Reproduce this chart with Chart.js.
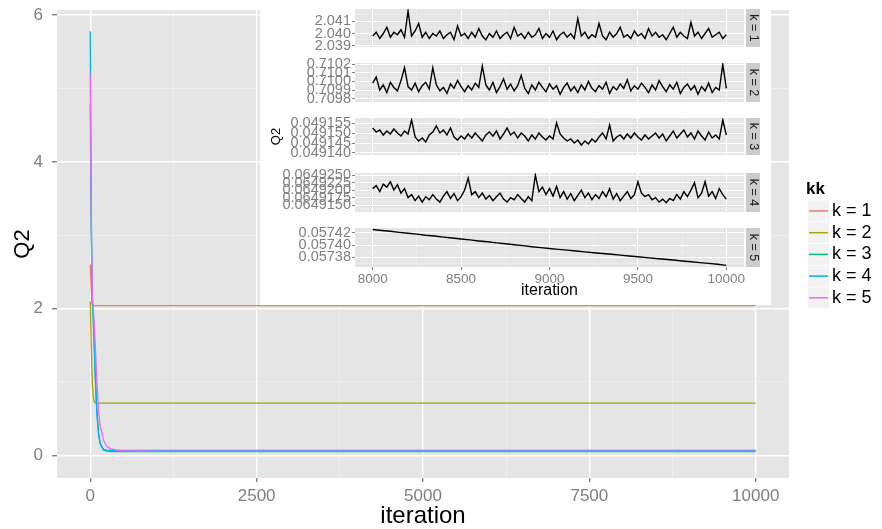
<!DOCTYPE html>
<html>
<head>
<meta charset="utf-8">
<script src="https://cdn.jsdelivr.net/npm/chart.js@4/dist/chart.umd.min.js"></script>
<style>
  html, body { margin: 0; padding: 0; background: #ffffff; }
  #wrap { position: relative; width: 882px; height: 529px; background: #ffffff; overflow: hidden; }
  #main { position: absolute; left: 0; top: 0; }
  #inset { position: absolute; left: 260px; top: 0; width: 511px; height: 305px; background: #ffffff; }
  #inset canvas { position: absolute; left: 0; }
</style>
</head>
<body>
<div id="wrap">
  <canvas id="main" width="882" height="529"></canvas>
  <div id="inset">
    <canvas id="p1" width="511" height="54" style="top:1px"></canvas>
    <canvas id="p2" width="511" height="55" style="top:55px"></canvas>
    <canvas id="p3" width="511" height="53" style="top:110px"></canvas>
    <canvas id="p4" width="511" height="55" style="top:165px"></canvas>
    <canvas id="p5" width="511" height="85" style="top:220px"></canvas>
  </div>
</div>
<script>
// ---------------- DATA ----------------
const seriesNames = ['k = 1', 'k = 2', 'k = 3', 'k = 4', 'k = 5'];
const legendTitle = 'kk';
const seriesColors = ['#F8766D', '#A3A500', '#00BF7D', '#00B0F6', '#E76BF3'];

// main plot (full run)
const mainIterations = [0, 15, 30, 45, 60, 80, 100, 125, 150, 200, 250, 300, 400, 500, 700, 1000, 2000, 4000, 6000, 8000, 10000];
const mainK1 = [2.6, 2.25, 2.08, 2.045, 2.041, 2.0402, 2.0400, 2.0399, 2.0399, 2.0399, 2.0399, 2.0399, 2.0399, 2.0399, 2.0399, 2.0399, 2.0399, 2.0399, 2.0399, 2.0399, 2.0399];
const mainK2 = [2.1, 1.5, 1.0, 0.80, 0.73, 0.712, 0.7100, 0.7099, 0.7099, 0.7099, 0.7099, 0.7099, 0.7099, 0.7099, 0.7099, 0.7099, 0.7099, 0.7099, 0.7099, 0.7099, 0.7099];
const mainK3 = [4.8, 3.0, 2.1, 1.9, 1.5, 1.0, 0.6, 0.3, 0.16, 0.07, 0.055, 0.051, 0.0495, 0.0492, 0.04915, 0.04915, 0.04915, 0.04915, 0.04915, 0.04915, 0.04915];
const mainK4 = [5.78, 3.3, 2.1, 1.85, 1.45, 0.95, 0.55, 0.28, 0.15, 0.08, 0.07, 0.066, 0.0652, 0.0650, 0.06492, 0.06492, 0.06492, 0.06492, 0.06492, 0.06492, 0.06492];
const mainK5 = [5.2, 3.2, 2.2, 2.0, 1.8, 1.4, 1.0, 0.6, 0.4, 0.2, 0.12, 0.09, 0.07, 0.062, 0.058, 0.0576, 0.05745, 0.05743, 0.05742, 0.057425, 0.057367];

const mainXMajor = [0, 2500, 5000, 7500, 10000];
const mainXMinor = [1250, 3750, 6250, 8750];
const mainYMajor = [0, 2, 4, 6];
const mainYMinor = [1, 3, 5];

// inset (iterations 8000-10000)
const insetIterations = [
  8000, 8020, 8040, 8060, 8080, 8100, 8120, 8140, 8160, 8180,
  8200, 8220, 8240, 8260, 8280, 8300, 8320, 8340, 8360, 8380,
  8400, 8420, 8440, 8460, 8480, 8500, 8520, 8540, 8560, 8580,
  8600, 8620, 8640, 8660, 8680, 8700, 8720, 8740, 8760, 8780,
  8800, 8820, 8840, 8860, 8880, 8900, 8920, 8940, 8960, 8980,
  9000, 9020, 9040, 9060, 9080, 9100, 9120, 9140, 9160, 9180,
  9200, 9220, 9240, 9260, 9280, 9300, 9320, 9340, 9360, 9380,
  9400, 9420, 9440, 9460, 9480, 9500, 9520, 9540, 9560, 9580,
  9600, 9620, 9640, 9660, 9680, 9700, 9720, 9740, 9760, 9780,
  9800, 9820, 9840, 9860, 9880, 9900, 9920, 9940, 9960, 9980,
  10000];
const insetK1 = [
  2.0398, 2.0401, 2.0396, 2.0400, 2.0405, 2.0397, 2.0401, 2.0399, 2.0403, 2.0397,
  2.0418, 2.0398, 2.0402, 2.0408, 2.0397, 2.0401, 2.0396, 2.0400, 2.0398, 2.0402,
  2.0396, 2.0399, 2.0401, 2.0395, 2.0406, 2.0398, 2.0400, 2.0396, 2.0401, 2.0397,
  2.0404, 2.0398, 2.0395, 2.0400, 2.0397, 2.0402, 2.0396, 2.0399, 2.0401, 2.0396,
  2.0405, 2.0398, 2.0400, 2.0396, 2.0401, 2.0397, 2.0399, 2.0404, 2.0396, 2.0400,
  2.0397, 2.0402, 2.0395, 2.0399, 2.0401, 2.0397, 2.0400, 2.0396, 2.0412, 2.0398,
  2.0401, 2.0396, 2.0399, 2.0397, 2.0408, 2.0398, 2.0395, 2.0401, 2.0397, 2.0400,
  2.0405, 2.0397, 2.0399, 2.0396, 2.0402, 2.0398, 2.0400, 2.0396, 2.0404, 2.0398,
  2.0401, 2.0397, 2.0399, 2.0395, 2.0400, 2.0405, 2.0397, 2.0401, 2.0398, 2.0396,
  2.0409, 2.0398, 2.0401, 2.0396, 2.0400, 2.0404, 2.0397, 2.0399, 2.0401, 2.0396,
  2.0399];
const insetK2 = [
  0.70998, 0.71005, 0.70990, 0.70996, 0.70987, 0.70999, 0.70993, 0.70989, 0.71001, 0.71016,
  0.70994, 0.70990, 0.70998, 0.70988, 0.70995, 0.70999, 0.70991, 0.71016, 0.70996, 0.70989,
  0.70993, 0.70986, 0.70997, 0.70992, 0.71001, 0.70994, 0.70988, 0.70995, 0.70990, 0.70998,
  0.70993, 0.71018, 0.70996, 0.70990, 0.70999, 0.70987, 0.70994, 0.71003, 0.70991, 0.70997,
  0.70989, 0.70995, 0.71007, 0.70992, 0.70986, 0.70996, 0.70990, 0.70999, 0.70993, 0.70988,
  0.70997, 0.70991, 0.70995, 0.70985, 0.70993, 0.70998, 0.70989, 0.70994, 0.70987, 0.70996,
  0.70990, 0.71000, 0.70992, 0.70988, 0.70995, 0.70991, 0.70999, 0.70986, 0.70994, 0.70990,
  0.70997, 0.70992, 0.71002, 0.70989, 0.70995, 0.70991, 0.70998, 0.70993, 0.70987, 0.70996,
  0.70990, 0.71001, 0.70994, 0.70988, 0.70996, 0.70991, 0.70999, 0.70986, 0.70993, 0.70997,
  0.70990, 0.70995, 0.70985, 0.70994, 0.70989, 0.70998, 0.70987, 0.70993, 0.70990, 0.71020,
  0.70992];
const insetK3 = [
  0.0491525, 0.0491505, 0.0491515, 0.0491490, 0.0491510, 0.0491495, 0.0491520, 0.0491500, 0.0491485, 0.0491510,
  0.0491495, 0.0491565, 0.0491480, 0.0491460, 0.0491475, 0.0491455, 0.0491490, 0.0491505, 0.0491535, 0.0491500,
  0.0491515, 0.0491490, 0.0491525, 0.0491480, 0.0491465, 0.0491485, 0.0491470, 0.0491495, 0.0491475, 0.0491500,
  0.0491480, 0.0491460, 0.0491490, 0.0491505, 0.0491485, 0.0491510, 0.0491470, 0.0491495, 0.0491525, 0.0491490,
  0.0491505, 0.0491475, 0.0491500, 0.0491485, 0.0491460, 0.0491490, 0.0491470, 0.0491500, 0.0491480, 0.0491465,
  0.0491485, 0.0491470, 0.0491550, 0.0491495, 0.0491475, 0.0491460, 0.0491470, 0.0491450, 0.0491465, 0.0491440,
  0.0491460, 0.0491445, 0.0491470, 0.0491455, 0.0491480, 0.0491500, 0.0491470, 0.0491540, 0.0491460, 0.0491480,
  0.0491490, 0.0491470, 0.0491495, 0.0491475, 0.0491500, 0.0491480, 0.0491465, 0.0491490, 0.0491470, 0.0491485,
  0.0491500, 0.0491475, 0.0491495, 0.0491460, 0.0491485, 0.0491510, 0.0491475, 0.0491495, 0.0491515, 0.0491480,
  0.0491500, 0.0491470, 0.0491510, 0.0491485, 0.0491465, 0.0491505, 0.0491475, 0.0491490, 0.0491470, 0.0491565,
  0.0491490];
const insetK4 = [
  0.0649205, 0.0649215, 0.0649195, 0.0649220, 0.0649210, 0.0649228, 0.0649200, 0.0649218, 0.0649190, 0.0649205,
  0.0649175, 0.0649185, 0.0649165, 0.0649180, 0.0649160, 0.0649178, 0.0649168, 0.0649185, 0.0649170, 0.0649160,
  0.0649180, 0.0649195, 0.0649172, 0.0649188, 0.0649165, 0.0649178, 0.0649200, 0.0649240, 0.0649185, 0.0649195,
  0.0649175, 0.0649190, 0.0649170, 0.0649182, 0.0649165, 0.0649178, 0.0649190, 0.0649170, 0.0649160, 0.0649175,
  0.0649168, 0.0649185, 0.0649172, 0.0649160, 0.0649178, 0.0649165, 0.0649250, 0.0649195, 0.0649210, 0.0649185,
  0.0649205, 0.0649180, 0.0649212, 0.0649175, 0.0649195, 0.0649170, 0.0649188, 0.0649165, 0.0649182, 0.0649200,
  0.0649175, 0.0649190, 0.0649168, 0.0649185, 0.0649172, 0.0649195, 0.0649178, 0.0649205, 0.0649170, 0.0649188,
  0.0649165, 0.0649180, 0.0649195, 0.0649172, 0.0649185, 0.0649228, 0.0649190, 0.0649178, 0.0649185, 0.0649168,
  0.0649175, 0.0649160, 0.0649170, 0.0649158, 0.0649172, 0.0649165, 0.0649185, 0.0649170, 0.0649195, 0.0649178,
  0.0649200, 0.0649225, 0.0649175, 0.0649190, 0.0649228, 0.0649180, 0.0649195, 0.0649172, 0.0649205, 0.0649185,
  0.0649170];
const insetK5Iterations = [
  8000, 8050, 8100, 8150, 8200, 8250, 8300, 8350, 8400, 8450,
  8500, 8550, 8600, 8650, 8700, 8750, 8800, 8850, 8900, 8950,
  9000, 9050, 9100, 9150, 9200, 9250, 9300, 9350, 9400, 9450,
  9500, 9550, 9600, 9650, 9700, 9750, 9800, 9850, 9900, 9950,
  10000];
const insetK5 = [
  0.0574250, 0.0574235, 0.0574222, 0.0574205, 0.0574190, 0.0574176, 0.0574158, 0.0574145, 0.0574128, 0.0574113,
  0.0574098, 0.0574083, 0.0574066, 0.0574052, 0.0574035, 0.0574021, 0.0574004, 0.0573990, 0.0573973, 0.0573958,
  0.0573944, 0.0573930, 0.0573918, 0.0573903, 0.0573890, 0.0573876, 0.0573863, 0.0573850, 0.0573836, 0.0573823,
  0.0573810, 0.0573796, 0.0573783, 0.0573770, 0.0573757, 0.0573742, 0.0573730, 0.0573716, 0.0573704, 0.0573690,
  0.0573672];

const insetXMajor = [8000, 8500, 9000, 9500, 10000];
const insetXMinor = [8250, 8750, 9250, 9750];
const insetYMajor1 = [2.039, 2.040, 2.041];
const insetYMinor1 = [2.0395, 2.0405, 2.0415];
const insetYMajor2 = [0.7098, 0.7099, 0.7100, 0.7101, 0.7102];
const insetYMinor2 = [0.70985, 0.70995, 0.71005, 0.71015];
const insetYMajor3 = [0.049140, 0.049145, 0.049150, 0.049155];
const insetYMinor3 = [0.0491425, 0.0491475, 0.0491525];
const insetYMajor4 = [0.0649150, 0.0649175, 0.0649200, 0.0649225, 0.0649250];
const insetYMinor4 = [0.06491375, 0.06491625, 0.06491875, 0.06492125, 0.06492375];
const insetYMajor5 = [0.05738, 0.05740, 0.05742];
const insetYMinor5 = [0.05737, 0.05739, 0.05741];

// ---------------- STYLE / HELPERS ----------------
const FONT = "'Liberation Sans', Arial, Helvetica, sans-serif";
const TICK_GREY = '#7F7F7F';
const PANEL_BG = '#E5E5E5';
const MINOR_GRID = '#F2F2F2';

function pts(xs, ys) { return xs.map((x, i) => ({ x: x, y: ys[i] })); }
function tickList(major, minor) {
  return major.map(v => ({ value: v, mj: true })).concat(minor.map(v => ({ value: v, mj: false })))
    .sort((a, b) => a.value - b.value);
}
const gridColor = c => (c.tick && c.tick.mj) ? '#FFFFFF' : MINOR_GRID;
const tickColor = c => (c.tick && c.tick.mj) ? TICK_GREY : 'rgba(0,0,0,0)';
function noEdgePadding(ax) { ax.paddingTop = 0; ax.paddingBottom = 0; }

const panelBg = {
  id: 'panelBg',
  beforeDraw(chart) {
    const { ctx, chartArea: a } = chart;
    ctx.save();
    ctx.fillStyle = PANEL_BG;
    ctx.fillRect(a.left, a.top, a.right - a.left, a.bottom - a.top);
    ctx.restore();
  }
};

const stripPlugin = {
  id: 'strip',
  afterDraw(chart, args, opts) {
    if (!opts || !opts.text) return;
    const { ctx, chartArea: a } = chart;
    ctx.save();
    ctx.fillStyle = '#CCCCCC';
    ctx.fillRect(a.right + 2, a.top, 14, a.bottom - a.top);
    ctx.translate(a.right + 9, (a.top + a.bottom) / 2);
    ctx.rotate(Math.PI / 2);
    ctx.fillStyle = '#1A1A1A';
    ctx.font = '12.5px ' + FONT;
    ctx.textAlign = 'center';
    ctx.textBaseline = 'middle';
    ctx.fillText(opts.text, 0, 0);
    ctx.restore();
  }
};

const legendPlugin = {
  id: 'kkLegend',
  afterDraw(chart) {
    const ctx = chart.ctx;
    ctx.save();
    ctx.textAlign = 'left';
    ctx.textBaseline = 'middle';
    ctx.fillStyle = '#000000';
    ctx.font = 'bold 17px ' + FONT;
    ctx.fillText(legendTitle, 806, 189);
    seriesNames.forEach((name, i) => {
      const cy = 211 + i * 21.7;
      ctx.fillStyle = '#F2F2F2';
      ctx.fillRect(808, cy - 10.5, 21, 21);
      ctx.strokeStyle = seriesColors[i];
      ctx.lineWidth = 1.5;
      ctx.beginPath();
      ctx.moveTo(809, cy);
      ctx.lineTo(828, cy);
      ctx.stroke();
      ctx.fillStyle = '#000000';
      ctx.font = '18px ' + FONT;
      ctx.fillText(name, 832, cy);
    });
    ctx.restore();
  }
};

// ---------------- MAIN CHART ----------------
const mainSeries = [mainK1, mainK2, mainK3, mainK4, mainK5];
new Chart(document.getElementById('main'), {
  type: 'line',
  data: {
    datasets: mainSeries.map((ys, i) => ({
      label: seriesNames[i],
      data: pts(mainIterations, ys),
      borderColor: seriesColors[i],
      backgroundColor: seriesColors[i],
      borderWidth: 1.3,
      pointRadius: 0,
      tension: 0,
      order: 5 - i
    }))
  },
  options: {
    responsive: false,
    animation: false,
    events: [],
    layout: { padding: { top: 10, right: 93, left: 0, bottom: 0 } },
    plugins: { legend: { display: false }, tooltip: { enabled: false } },
    scales: {
      x: {
        type: 'linear', min: -500, max: 10500,
        afterBuildTicks: ax => { ax.ticks = tickList(mainXMajor, mainXMinor); },
        afterFit: ax => { ax.height = 51; },
        border: { display: false },
        grid: { color: gridColor, lineWidth: c => (c.tick && c.tick.mj) ? 1.4 : 0.7, tickColor: tickColor, tickLength: 4 },
        ticks: {
          autoSkip: false, maxRotation: 0, padding: 4, color: TICK_GREY, font: { family: FONT, size: 17 },
          callback: (v, i, t) => t[i].mj ? String(v) : ''
        },
        title: { display: true, text: 'iteration', color: '#000000', font: { family: FONT, size: 24 }, padding: { top: 0, bottom: -2 } }
      },
      y: {
        type: 'linear', min: -0.31, max: 6.07,
        afterBuildTicks: ax => { ax.ticks = tickList(mainYMajor, mainYMinor); },
        afterFit: ax => { ax.width = 57; noEdgePadding(ax); },
        border: { display: false },
        grid: { color: gridColor, lineWidth: c => (c.tick && c.tick.mj) ? 1.4 : 0.7, tickColor: tickColor, tickLength: 5 },
        ticks: {
          autoSkip: false, padding: 9, color: TICK_GREY, font: { family: FONT, size: 17 },
          callback: (v, i, t) => t[i].mj ? String(v) : ''
        },
        title: { display: true, text: 'Q2', color: '#000000', font: { family: FONT, size: 22 }, padding: { top: 10, bottom: 0 } }
      }
    }
  },
  plugins: [panelBg, legendPlugin]
});

// ---------------- INSET PANELS ----------------
function insetPanel(id, xs, ys, yMin, yMax, major, minor, decimals, strip, isBottom, showYTitle) {
  return new Chart(document.getElementById(id), {
    type: 'line',
    data: { datasets: [{ data: pts(xs, ys), borderColor: '#000000', borderWidth: 1.4, pointRadius: 0, tension: 0 }] },
    options: {
      responsive: false,
      animation: false,
      events: [],
      layout: { padding: { top: 8, bottom: isBottom ? 0 : 8, left: 0, right: 27 } },
      plugins: { legend: { display: false }, tooltip: { enabled: false }, strip: { text: strip } },
      scales: {
        x: {
          type: 'linear', min: 7900, max: 10100,
          afterBuildTicks: ax => { ax.ticks = tickList(insetXMajor, insetXMinor); },
          afterFit: ax => { ax.height = isBottom ? 38 : 0; },
          border: { display: false },
          grid: { color: gridColor, lineWidth: c => (c.tick && c.tick.mj) ? 1 : 0.5, tickColor: tickColor, tickLength: 3, drawTicks: isBottom },
          ticks: {
            display: isBottom, autoSkip: false, maxRotation: 0, padding: 1, color: TICK_GREY, font: { family: FONT, size: 13.5 },
            callback: (v, i, t) => t[i].mj ? String(v) : ''
          },
          title: { display: isBottom, text: 'iteration', color: '#000000', font: { family: FONT, size: 16 }, padding: { top: 0, bottom: 5 } }
        },
        y: {
          type: 'linear', min: yMin, max: yMax,
          afterBuildTicks: ax => { ax.ticks = tickList(major, minor); },
          afterFit: ax => { ax.width = 95; noEdgePadding(ax); },
          border: { display: false },
          grid: { color: gridColor, lineWidth: c => (c.tick && c.tick.mj) ? 1 : 0.5, tickColor: tickColor, tickLength: 3 },
          ticks: {
            autoSkip: false, padding: 1, color: TICK_GREY, font: { family: FONT, size: 14.5 },
            callback: (v, i, t) => t[i].mj ? v.toFixed(decimals) : ''
          },
          title: { display: showYTitle, text: 'Q2', color: '#000000', font: { family: FONT, size: 13 }, padding: { top: 9, bottom: 0 } }
        }
      }
    },
    plugins: [panelBg, stripPlugin]
  });
}

insetPanel('p1', insetIterations, insetK1, 2.03892, 2.04196, insetYMajor1, insetYMinor1, 3, 'k = 1', false, false);
insetPanel('p2', insetIterations, insetK2, 0.70976, 0.710215, insetYMajor2, insetYMinor2, 4, 'k = 2', false, false);
insetPanel('p3', insetIterations, insetK3, 0.049139, 0.0491575, insetYMajor3, insetYMinor3, 6, 'k = 3', false, true);
insetPanel('p4', insetIterations, insetK4, 0.0649127, 0.0649257, insetYMajor4, insetYMinor4, 7, 'k = 4', false, false);
insetPanel('p5', insetK5Iterations, insetK5, 0.0573645, 0.0574275, insetYMajor5, insetYMinor5, 5, 'k = 5', true, false);
</script>
</body>
</html>
